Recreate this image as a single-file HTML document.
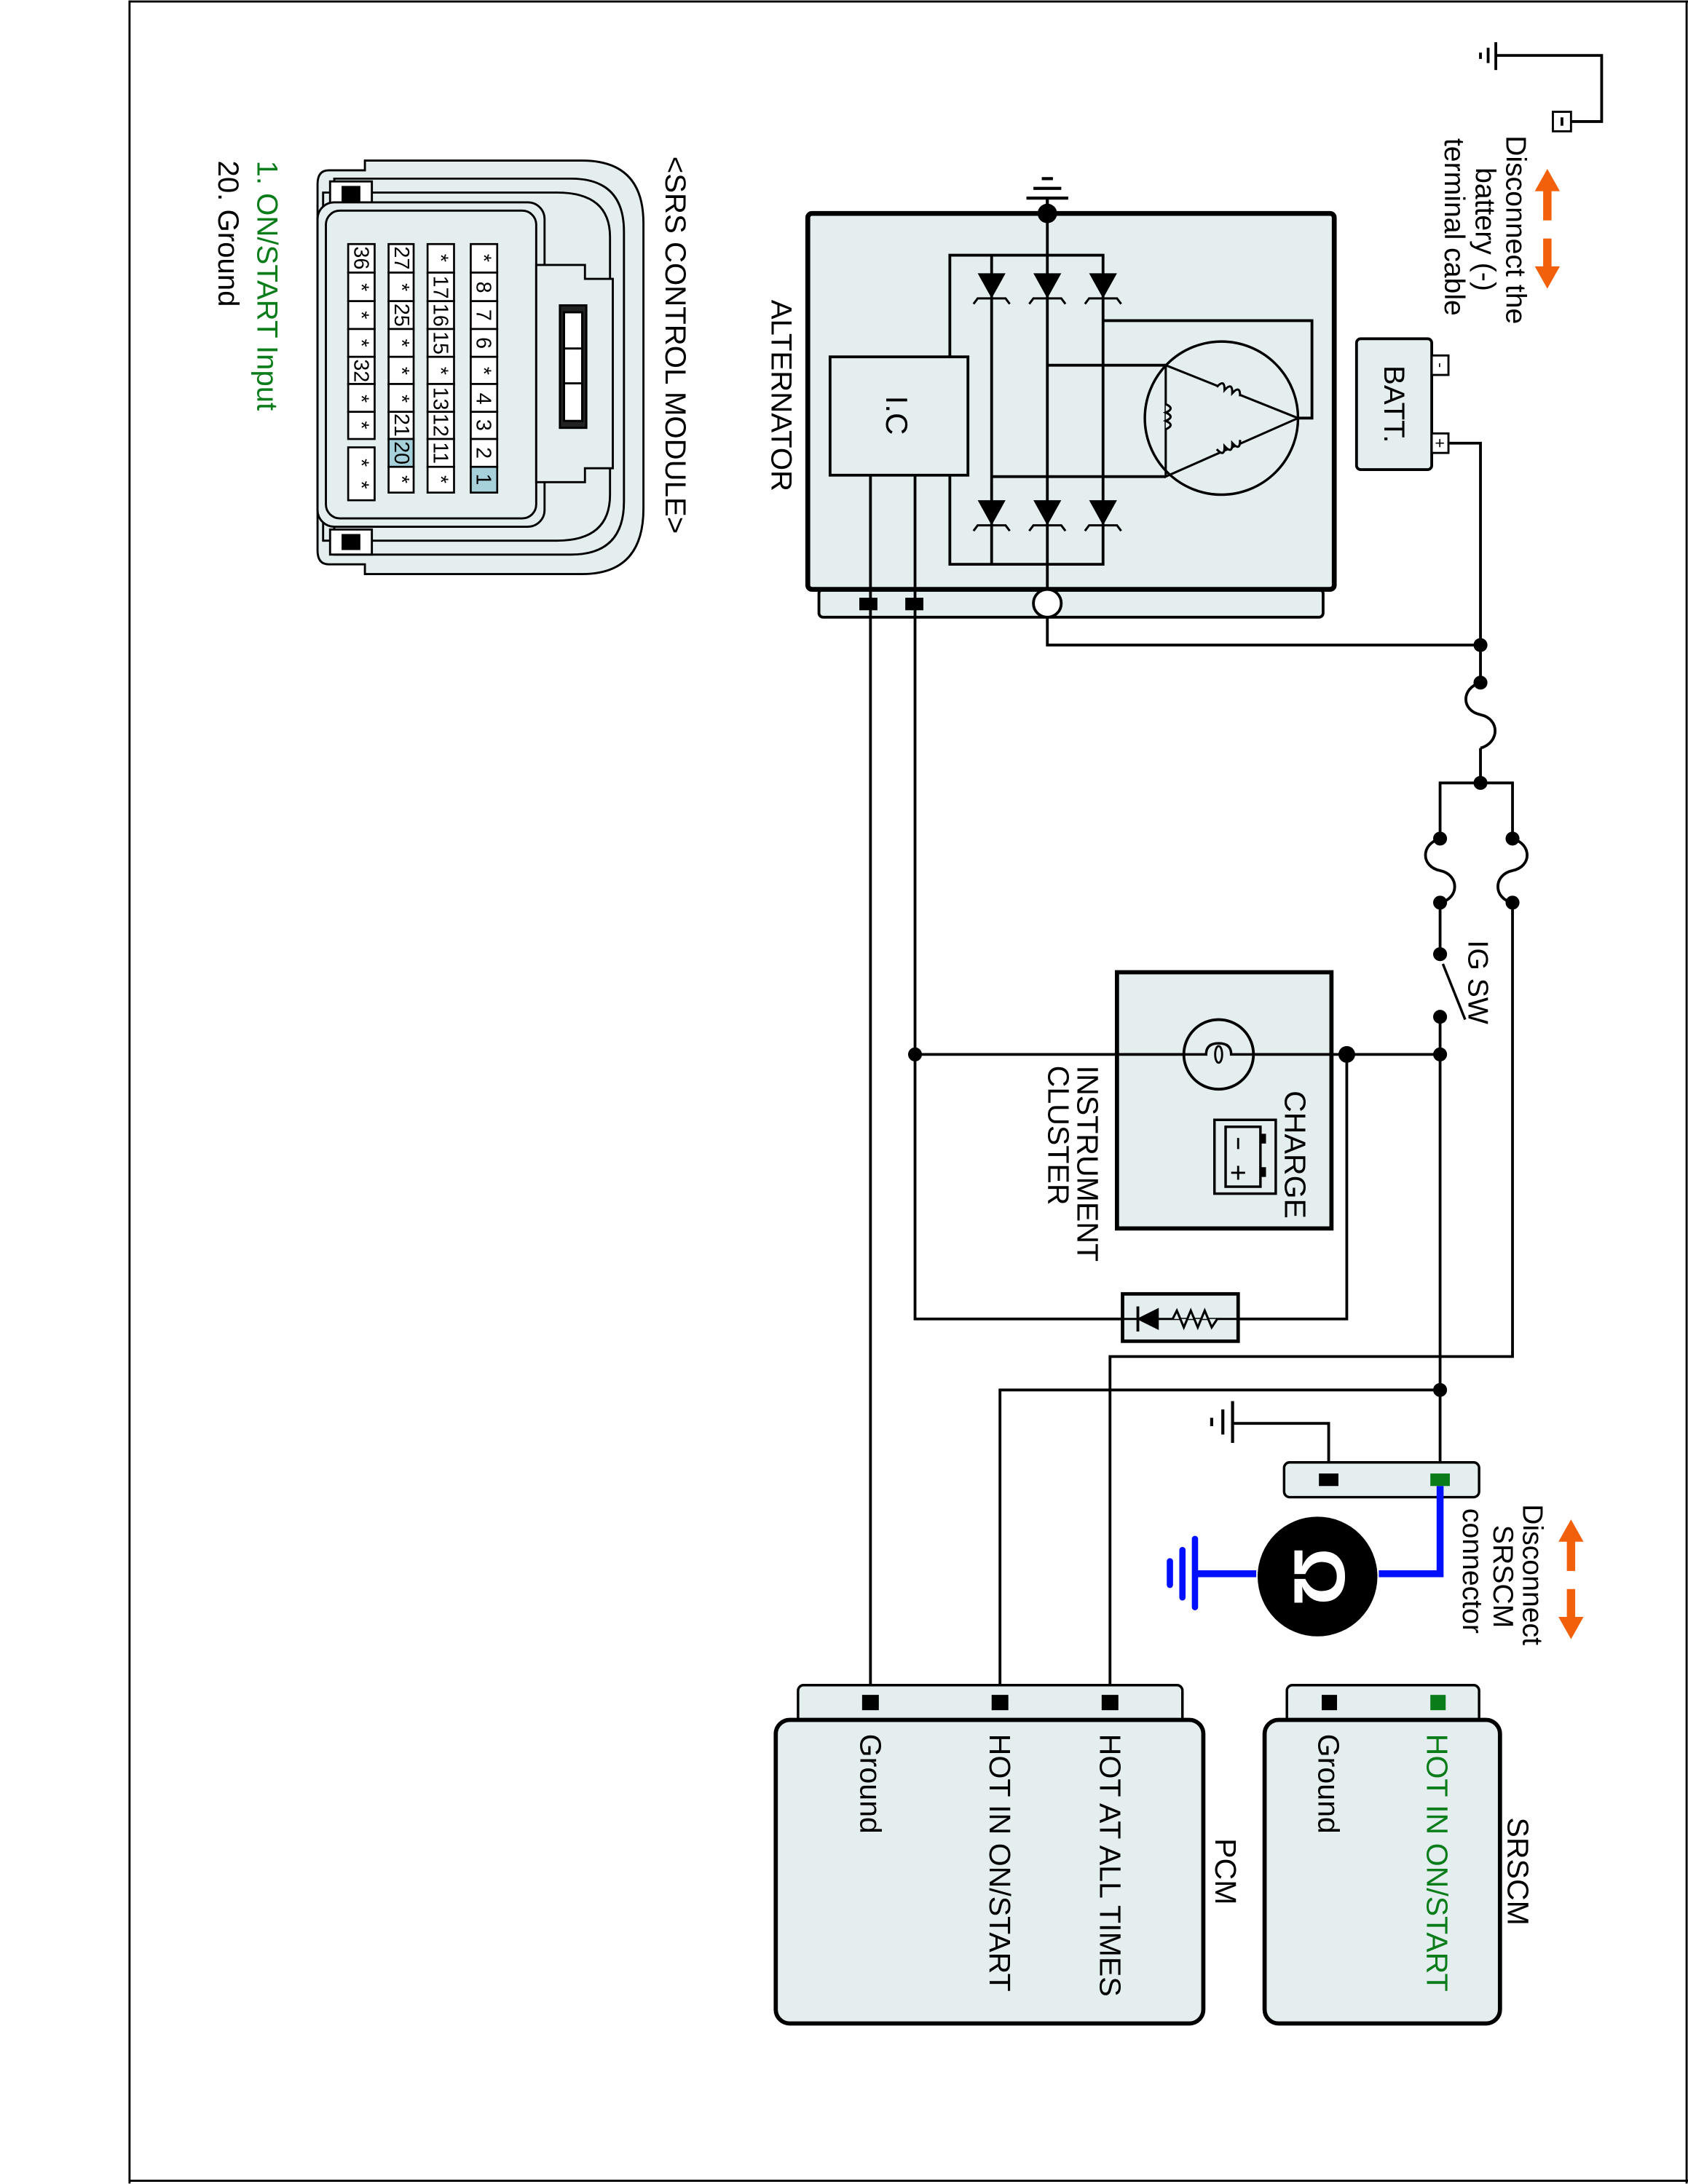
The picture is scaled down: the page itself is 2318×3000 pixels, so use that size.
<!DOCTYPE html>
<html><head><meta charset="utf-8"><style>
html,body{margin:0;padding:0;background:#fff}
svg{display:block}
text{font-family:"Liberation Sans",Arial,sans-serif}
</style></head><body>
<svg width="2318" height="3000" viewBox="0 0 1212 1568" xmlns="http://www.w3.org/2000/svg">
<defs>
<g id="dz"><path d="M-10,-9 L10,-9 L0,9 Z" fill="#000"/><path d="M-13,13 L-10,9 L10,9 L13,13" fill="none" stroke="#000" stroke-width="1.6"/></g>
</defs>
<rect x="0" y="0" width="1212" height="1568" fill="#fff"/>
<line x1="93" y1="0" x2="93" y2="1568" stroke="#000" stroke-width="1.5"/>
<line x1="93" y1="1566" x2="1212" y2="1566" stroke="#000" stroke-width="1.5"/>
<line x1="93" y1="0.8" x2="1212" y2="0.8" stroke="#000" stroke-width="1.5"/>
<line x1="1211" y1="0" x2="1211" y2="1568" stroke="#000" stroke-width="1.5"/>

<g stroke="#000" stroke-width="2" fill="none">
<rect x="588" y="423" width="362" height="20" rx="3" fill="#e4eeef"/>
<rect x="580" y="153" width="378" height="270" rx="3" fill="#e4eeef" stroke-width="3.5"/>
<line x1="752" y1="153" x2="752" y2="425"/>
<path d="M682,256 V183 H792 V405 H682 V341"/>
<line x1="712" y1="183" x2="712" y2="405"/>
<path d="M792,230 H942 V300 H932"/>
<path d="M752,262 H837"/><path d="M712,342 H837"/>
<circle cx="877" cy="300" r="55" stroke-width="1.8"/>
<path d="M837,262 L932,300 L837,342 Z" stroke-width="1.6"/>
<rect x="596" y="256" width="99" height="85"/>
<line x1="625" y1="341" x2="625" y2="1222"/>
<line x1="657" y1="341" x2="657" y2="757"/>
</g>
<g fill="#e4eeef" stroke="#000" stroke-width="1.6">
<path d="M837,290 q7,3 0,6 q7,3 0,6 q7,3 0,6" />
<path d="M-9,0 q3,-8 6,0 q3,-8 6,0 q3,-8 6,0" transform="translate(882,281) rotate(21.8)"/>
<path d="M-9,0 q3,8 6,0 q3,8 6,0 q3,8 6,0" transform="translate(882,319) rotate(-21.8)"/>
</g>
<use href="#dz" x="712" y="205"/><use href="#dz" x="752" y="205"/><use href="#dz" x="792" y="205"/>
<use href="#dz" x="712" y="368"/><use href="#dz" x="752" y="368"/><use href="#dz" x="792" y="368"/>
<g stroke="#000" stroke-width="2.2">
<line x1="737" y1="142" x2="767" y2="142"/><line x1="742" y1="135" x2="762" y2="135"/><line x1="748" y1="128" x2="756" y2="128"/>
<line x1="752" y1="142" x2="752" y2="153"/>
</g>
<circle cx="752" cy="153" r="7"/>
<rect x="617" y="429" width="13" height="9" fill="#000"/>
<rect x="650" y="429" width="13" height="9" fill="#000"/>
<circle cx="752" cy="433" r="10" fill="#fff" stroke="#000" stroke-width="2"/>
<text transform="translate(644,298) rotate(90)" font-size="22" dominant-baseline="central" text-anchor="middle">I.C</text>
<text transform="translate(561,215) rotate(90)" font-size="21" dominant-baseline="central">ALTERNATOR</text>

<g stroke="#000" stroke-width="2" fill="none">
<rect x="974" y="243" width="54" height="94" rx="3" fill="#e4eeef"/>
<rect x="1028" y="255" width="12" height="14" fill="#fff" stroke-width="1.5"/>
<rect x="1028" y="311" width="12" height="14" fill="#fff" stroke-width="1.5"/>
<path d="M1040,318 H1063 V463"/>
<path d="M752,443 V463 H1063"/>
<path d="M1063,463 V490"/>
<path d="M1063,490 c-14,4 -14,20 0,23 c14,3 14,20 0,24"/>
<path d="M1063,537 V562"/>
<path d="M1034,602 V562 H1086 V602"/>
<path d="M1086,602 c14,4 14,20 0,23 c-14,3 -14,20 0,23"/>
<path d="M1034,602 c-14,4 -14,20 0,23 c14,3 14,20 0,23"/>
<path d="M1034,648 V685"/>
<path d="M1036,692 L1052,732" stroke-width="1.8"/>
<path d="M1034,730 V1063"/>
<path d="M1086,648 V974 H797 V1222"/>
<path d="M657,757 H1034"/>
<path d="M967,757 V947 H888"/>
<path d="M806,947 H657 V757"/>
<path d="M1034,998 H718 V1222"/>
<path d="M954,1063 V1022 H885"/>
<path d="M1074,39.5 H1150 V87 H1128"/>
</g>
<text transform="translate(1001,290) rotate(90)" font-size="21" dominant-baseline="central" text-anchor="middle">BATT.</text>
<text transform="translate(1034,262) rotate(90)" font-size="11" dominant-baseline="central" text-anchor="middle">-</text>
<text transform="translate(1034,318) rotate(90)" font-size="12" dominant-baseline="central" text-anchor="middle">+</text>
<g stroke="#000" stroke-width="2">
<line x1="1074" y1="30" x2="1074" y2="50"/><line x1="1068.5" y1="34" x2="1068.5" y2="45"/><line x1="1063" y1="37.5" x2="1063" y2="42"/>
</g>
<rect x="1115" y="80" width="13" height="14" fill="#fff" stroke="#000" stroke-width="1.5"/>
<line x1="1121.5" y1="84" x2="1121.5" y2="90" stroke="#000" stroke-width="2"/>
<g fill="#f2600c">
<rect x="1108" y="134" width="6" height="24"/><path d="M1102,137 L1111,121 L1120,137Z"/>
<rect x="1108" y="171" width="6" height="24"/><path d="M1102,191 L1111,207 L1120,191Z"/>
<rect x="1125" y="1104" width="6" height="24"/><path d="M1119,1107 L1128,1091 L1137,1107Z"/>
<rect x="1125" y="1141" width="6" height="24"/><path d="M1119,1161 L1128,1177 L1137,1161Z"/>
</g>
<g font-size="20.5" dominant-baseline="central">
<text transform="translate(1088,97) rotate(90)">Disconnect the</text>
<text transform="translate(1066,120) rotate(90)">battery (-)</text>
<text transform="translate(1044,99) rotate(90)">terminal cable</text>
<text transform="translate(1061,675) rotate(90)">IG SW</text>
<text transform="translate(1100,1080) rotate(90)">Disconnect</text>
<text transform="translate(1079,1095) rotate(90)">SRSCM</text>
<text transform="translate(1057,1083) rotate(90)">connector</text>
</g>
<g fill="#000">
<circle cx="1063" cy="463" r="5"/><circle cx="1063" cy="490" r="5"/><circle cx="1063" cy="562" r="5"/>
<circle cx="1086" cy="602" r="5"/><circle cx="1086" cy="648" r="5"/>
<circle cx="1034" cy="602" r="5"/><circle cx="1034" cy="648" r="5"/>
<circle cx="1034" cy="685" r="5"/><circle cx="1034" cy="730" r="5"/>
<circle cx="1034" cy="757" r="5"/><circle cx="967" cy="757" r="6"/><circle cx="657" cy="757" r="5"/>
<circle cx="1034" cy="998" r="5"/>
</g>

<rect x="802" y="698" width="154" height="184" fill="#e4eeef" stroke="#000" stroke-width="3"/>
<line x1="802" y1="757" x2="956" y2="757" stroke="#000" stroke-width="2"/>
<circle cx="875" cy="757" r="25" fill="#e4eeef" stroke="#000" stroke-width="2"/>
<path d="M850,757 H866 q0,-8 9,-8 q9,0 9,8 H900" fill="#e4eeef" stroke="#000" stroke-width="1.8"/>
<ellipse cx="875" cy="757" rx="2.5" ry="6" fill="none" stroke="#000" stroke-width="1.5"/>
<rect x="872" y="804" width="44" height="53" fill="none" stroke="#000" stroke-width="1.8"/>
<rect x="880" y="809" width="25" height="43" fill="none" stroke="#000" stroke-width="1.8"/>
<rect x="905" y="814" width="4" height="7" fill="#000"/><rect x="905" y="838" width="4" height="7" fill="#000"/>
<line x1="889" y1="817" x2="889" y2="825" stroke="#000" stroke-width="1.5"/>
<path d="M889,837 V847 M884,842 H894" stroke="#000" stroke-width="1.5"/>
<text transform="translate(930,783) rotate(90)" font-size="21.5" dominant-baseline="central">CHARGE</text>
<text transform="translate(781,765) rotate(90)" font-size="21.5" dominant-baseline="central">INSTRUMENT</text>
<text transform="translate(760,765) rotate(90)" font-size="21.5" dominant-baseline="central">CLUSTER</text>
<rect x="806" y="929" width="83" height="34" fill="#e4eeef" stroke="#000" stroke-width="2.5"/>
<path d="M806,947 H888" stroke="#000" stroke-width="1.6" fill="none"/>
<path d="M816,947 L832,939 L832,955 Z" fill="#000"/><line x1="817" y1="938" x2="817" y2="956" stroke="#000" stroke-width="2"/>
<path d="M842,947 l3,-6 l5,12 l5,-12 l5,12 l5,-12 l5,12 l4,-6" fill="#e4eeef" stroke="#000" stroke-width="1.6"/>

<g stroke="#000" stroke-width="2.2">
<line x1="885" y1="1006" x2="885" y2="1036"/><line x1="878" y1="1012" x2="878" y2="1030"/><line x1="870" y1="1018" x2="870" y2="1024"/>
</g>
<rect x="922" y="1050" width="140" height="25" rx="4" fill="#e4eeef" stroke="#000" stroke-width="1.8"/>
<rect x="947" y="1058" width="14" height="9" fill="#000"/>
<rect x="1027" y="1058" width="14" height="9" fill="#0a7d1a"/>
<path d="M1034,1067 V1130 H990" fill="none" stroke="#0010ff" stroke-width="5"/>
<path d="M902,1130 H858" fill="none" stroke="#0010ff" stroke-width="5"/>
<g stroke="#0010ff" stroke-width="4.5" stroke-linecap="round">
<line x1="858" y1="1105" x2="858" y2="1154"/><line x1="849" y1="1113" x2="849" y2="1147"/><line x1="840" y1="1121" x2="840" y2="1138"/>
</g>
<circle cx="946" cy="1132" r="43" fill="#000"/>
<text transform="translate(947,1132) rotate(90)" font-size="52" font-weight="bold" fill="#fff" dominant-baseline="central" text-anchor="middle">Ω</text>

<rect x="924" y="1210" width="138" height="30" rx="4" fill="#e4eeef" stroke="#000" stroke-width="1.8"/>
<rect x="908" y="1235" width="169" height="218" rx="10" fill="#e4eeef" stroke="#000" stroke-width="3"/>
<rect x="949" y="1217" width="11" height="11" fill="#000"/>
<rect x="1027" y="1217" width="11" height="11" fill="#0a7d1a"/>
<rect x="573" y="1210" width="276" height="30" rx="4" fill="#e4eeef" stroke="#000" stroke-width="1.8"/>
<rect x="557" y="1235" width="307" height="218" rx="10" fill="#e4eeef" stroke="#000" stroke-width="3"/>
<rect x="619" y="1217" width="12" height="11" fill="#000"/>
<rect x="712" y="1217" width="12" height="11" fill="#000"/>
<rect x="791" y="1217" width="12" height="11" fill="#000"/>
<g font-size="21.5" dominant-baseline="central">
<text transform="translate(1090,1305) rotate(90)">SRSCM</text>
<text transform="translate(1032,1245) rotate(90)" fill="#0a7d1a">HOT IN ON/START</text>
<text transform="translate(954,1245) rotate(90)">Ground</text>
<text transform="translate(880,1320) rotate(90)">PCM</text>
<text transform="translate(797,1245) rotate(90)">HOT AT ALL TIMES</text>
<text transform="translate(718,1245) rotate(90)">HOT IN ON/START</text>
<text transform="translate(625,1245) rotate(90)">Ground</text>
</g>

<g stroke="#000" stroke-width="1.5" fill="#e4eeef">
<path d="M262,115 H418 Q462,115 462,160 V365 Q462,412 418,412 H262 L262,405 H236 Q228,405 228,395 V132 Q228,122 236,122 H262 Z"/>
<path d="M240,128 H410 Q448,128 448,166 V360 Q448,398 410,398 H240 Z" fill="none"/>
<path d="M232,138 H400 Q438,138 438,170 V355 Q438,388 400,388 H232 Z" fill="none"/>
<rect x="237" y="130" width="30" height="18" fill="#fff"/>
<rect x="237" y="380" width="30" height="18" fill="#fff"/>
<rect x="246" y="134" width="12" height="10" fill="#000"/>
<rect x="246" y="384" width="12" height="10" fill="#000"/>
<rect x="228" y="145" width="163" height="233" rx="12"/>
<rect x="234" y="151" width="151" height="221" rx="10" fill="none"/>
<path d="M385,190 H420 V200 H440 V336 H420 V346 H385 Z"/>
<rect x="402" y="219" width="19" height="88" fill="#222"/>
<rect x="405" y="224" width="13" height="78" fill="#fff" stroke="#000"/>
<line x1="405" y1="250" x2="418" y2="250"/><line x1="405" y1="275" x2="418" y2="275"/>
</g>
<g stroke="#000" stroke-width="1.4">
<g fill="#fff">
<rect x="338" y="175" width="19" height="20.5"/><rect x="338" y="195.5" width="19" height="20.5"/><rect x="338" y="216" width="19" height="20"/><rect x="338" y="236" width="19" height="20"/><rect x="338" y="256" width="19" height="19.5"/><rect x="338" y="275.5" width="19" height="20"/><rect x="338" y="295.5" width="19" height="19.5"/><rect x="338" y="315" width="19" height="20"/><rect x="338" y="335" width="19" height="18.5" fill="#a6d0da"/>
<rect x="307" y="175" width="19" height="20.5"/><rect x="307" y="195.5" width="19" height="20.5"/><rect x="307" y="216" width="19" height="20"/><rect x="307" y="236" width="19" height="20"/><rect x="307" y="256" width="19" height="19.5"/><rect x="307" y="275.5" width="19" height="20"/><rect x="307" y="295.5" width="19" height="19.5"/><rect x="307" y="315" width="19" height="20"/><rect x="307" y="335" width="19" height="18.5"/>
<rect x="279" y="175" width="18" height="20.5"/><rect x="279" y="195.5" width="18" height="20.5"/><rect x="279" y="216" width="18" height="20"/><rect x="279" y="236" width="18" height="20"/><rect x="279" y="256" width="18" height="19.5"/><rect x="279" y="275.5" width="18" height="20"/><rect x="279" y="295.5" width="18" height="19.5"/><rect x="279" y="315" width="18" height="20" fill="#a6d0da"/><rect x="279" y="335" width="18" height="18.5"/>
<rect x="250" y="175" width="19" height="20.5"/><rect x="250" y="195.5" width="19" height="20.5"/><rect x="250" y="216" width="19" height="20"/><rect x="250" y="236" width="19" height="20"/><rect x="250" y="256" width="19" height="19.5"/><rect x="250" y="275.5" width="19" height="20"/><rect x="250" y="295.5" width="19" height="19.5"/>
<rect x="250" y="321" width="19" height="38"/>
</g>
</g>
<g font-size="15" dominant-baseline="central" text-anchor="middle" fill="#000">
<text transform="translate(347,185) rotate(90)">*</text><text transform="translate(347,206) rotate(90)">8</text><text transform="translate(347,226) rotate(90)">7</text><text transform="translate(347,246) rotate(90)">6</text><text transform="translate(347,266) rotate(90)">*</text><text transform="translate(347,286) rotate(90)">4</text><text transform="translate(347,305) rotate(90)">3</text><text transform="translate(347,325) rotate(90)">2</text><text transform="translate(347,344) rotate(90)">1</text>
<text transform="translate(316,185) rotate(90)">*</text><text transform="translate(316,206) rotate(90)">17</text><text transform="translate(316,226) rotate(90)">16</text><text transform="translate(316,246) rotate(90)">15</text><text transform="translate(316,266) rotate(90)">*</text><text transform="translate(316,286) rotate(90)">13</text><text transform="translate(316,305) rotate(90)">12</text><text transform="translate(316,325) rotate(90)">11</text><text transform="translate(316,344) rotate(90)">*</text>
<text transform="translate(288,185) rotate(90)">27</text><text transform="translate(288,206) rotate(90)">*</text><text transform="translate(288,226) rotate(90)">25</text><text transform="translate(288,246) rotate(90)">*</text><text transform="translate(288,266) rotate(90)">*</text><text transform="translate(288,286) rotate(90)">*</text><text transform="translate(288,305) rotate(90)">21</text><text transform="translate(288,325) rotate(90)">20</text><text transform="translate(288,344) rotate(90)">*</text>
<text transform="translate(259,185) rotate(90)">36</text><text transform="translate(259,206) rotate(90)">*</text><text transform="translate(259,226) rotate(90)">*</text><text transform="translate(259,246) rotate(90)">*</text><text transform="translate(259,266) rotate(90)">32</text><text transform="translate(259,286) rotate(90)">*</text><text transform="translate(259,305) rotate(90)">*</text>
<text transform="translate(259,332) rotate(90)">*</text><text transform="translate(259,348) rotate(90)">*</text>
</g>
<text transform="translate(485,112) rotate(90)" font-size="21" dominant-baseline="central">&lt;SRS CONTROL MODULE&gt;</text>
<text transform="translate(192,115) rotate(90)" font-size="21" dominant-baseline="central" fill="#0a7d1a">1. ON/START Input</text>
<text transform="translate(164,115) rotate(90)" font-size="21" dominant-baseline="central">20. Ground</text>
</svg>
</body></html>
